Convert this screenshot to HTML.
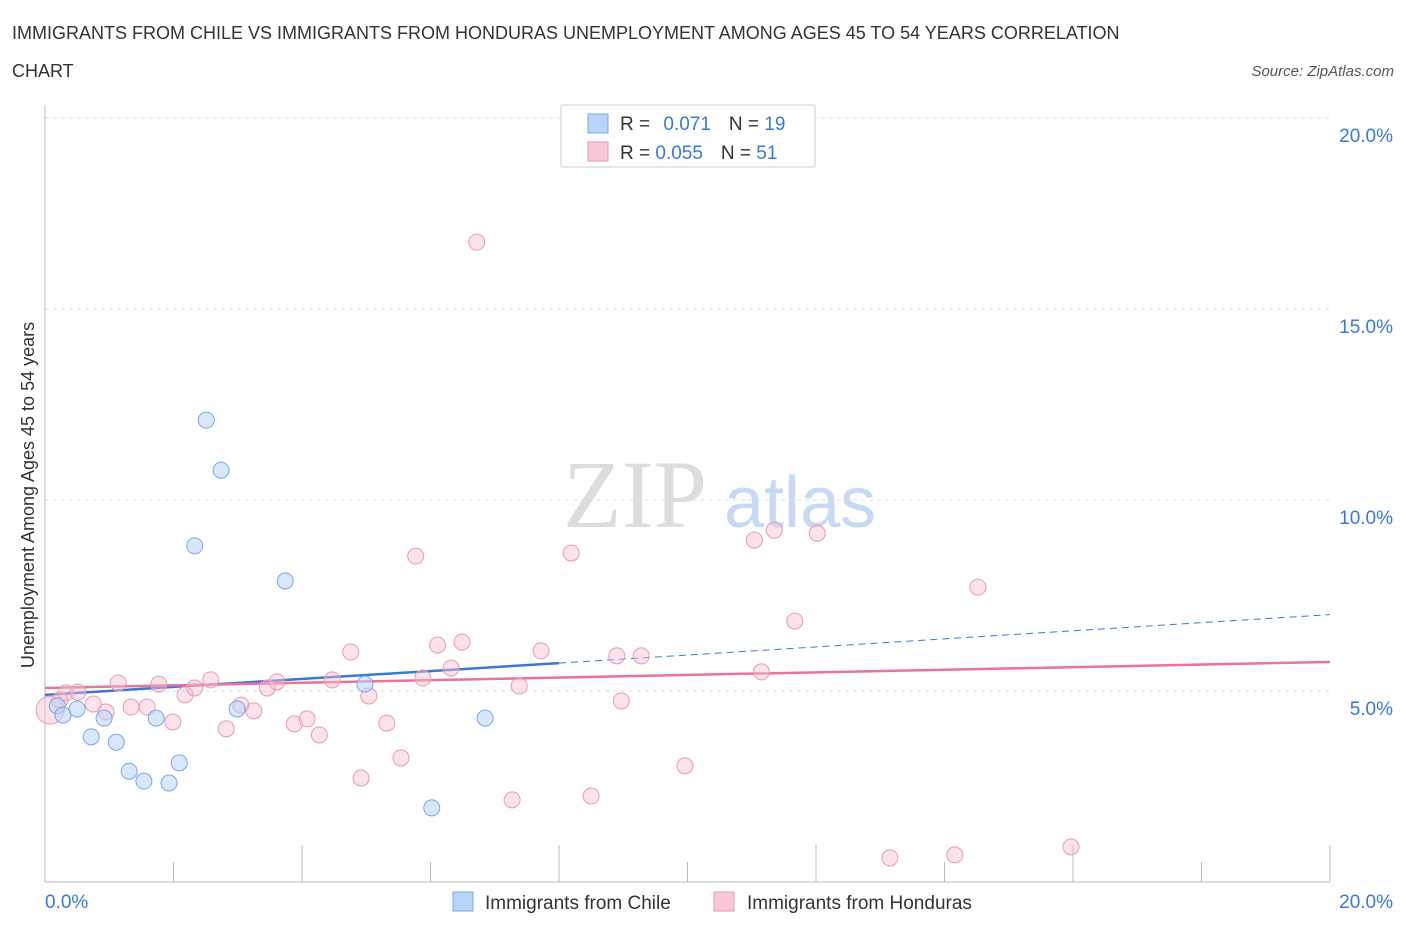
<!DOCTYPE html>
<html><head><meta charset="utf-8"><style>
body{margin:0;background:#fff;font-family:"Liberation Sans",sans-serif;}
svg{display:block}
</style></head><body>
<svg id="chart" width="1406" height="930">
<text x="12" y="39" font-size="18" fill="#333">IMMIGRANTS FROM CHILE VS IMMIGRANTS FROM HONDURAS UNEMPLOYMENT AMONG AGES 45 TO 54 YEARS CORRELATION</text>
<text x="12" y="77" font-size="18" fill="#333">CHART</text>
<text x="1394" y="76" font-size="15" fill="#555" font-style="italic" text-anchor="end">Source: ZipAtlas.com</text>
<text x="635" y="527" font-size="96" fill="#ddd" font-family="Liberation Serif,serif" text-anchor="middle">ZIP</text>
<text x="800" y="527" font-size="72" fill="#c8daf3" text-anchor="middle">atlas</text>
<text transform="translate(34,495) rotate(-90)" font-size="18" fill="#333" text-anchor="middle">Unemployment Among Ages 45 to 54 years</text>
<g id="grid"></g><g id="trend"></g><g id="pts"></g>
<g>
<rect x="561" y="105" width="254" height="62" fill="#fff" stroke="#ccc"/>
<rect x="588" y="114" width="20" height="19" fill="#b8d4f7" stroke="#7aa8e6"/>
<text x="620" y="130" font-size="19" fill="#333">R = <tspan fill="#3a78d4" dx="8">0.071</tspan><tspan dx="18" fill="#333">N = </tspan><tspan fill="#3a78d4">19</tspan></text>
<rect x="588" y="142" width="20" height="19" fill="#f8c8d6" stroke="#e89ab2"/>
<text x="620" y="159" font-size="19" fill="#333">R = <tspan fill="#3a78d4">0.055</tspan><tspan dx="18" fill="#333">N = </tspan><tspan fill="#3a78d4">51</tspan></text>
</g>
<g>
<rect x="453" y="892" width="20" height="19" fill="#b8d4f7" stroke="#7aa8e6"/>
<text x="485" y="909" font-size="19" fill="#333">Immigrants from Chile</text>
<rect x="714" y="892" width="20" height="19" fill="#f8c8d6" stroke="#e89ab2"/>
<text x="747" y="909" font-size="19" fill="#333">Immigrants from Honduras</text>
</g>
</svg>
<script>
const chileX=[0.19,0.28,0.5,0.72,0.92,1.11,1.31,1.54,1.73,1.93,2.09,2.33,2.51,2.74,2.99,3.74,4.98,6.02,6.85];
const chileY=[4.61,4.37,4.53,3.80,4.29,3.66,2.90,2.64,4.29,2.59,3.12,8.80,12.09,10.78,4.53,7.88,5.18,1.94,4.29];
const honX=[0.08,0.23,0.33,0.51,0.75,0.95,1.14,1.34,1.59,1.77,1.99,2.18,2.33,2.58,2.82,3.05,3.25,3.46,3.61,3.88,4.08,4.27,4.47,4.76,4.92,5.04,5.32,5.54,5.77,5.88,6.11,6.32,6.49,6.72,7.27,7.38,7.72,8.19,8.5,8.9,8.97,9.28,9.96,11.04,11.15,11.35,11.67,12.02,13.15,14.16,14.52,15.97];
const honY=[4.50,4.76,4.95,4.97,4.66,4.45,5.21,4.58,4.58,5.18,4.19,4.90,5.08,5.29,4.01,4.63,4.48,5.08,5.24,4.14,4.27,3.85,5.29,6.02,2.72,4.87,4.16,3.25,8.53,5.34,6.20,5.60,6.28,16.75,2.15,5.13,6.05,8.61,2.25,5.92,4.74,5.92,3.04,8.95,5.50,9.21,6.83,9.13,0.63,0.71,7.72,0.92];
const chileTrend=[4.90,5.73,7.00]; // at x=0, 8, 20
const honTrend=[5.08,5.76]; // at x=0, 20
const yTicks=[5,10,15,20];
const NS="http://www.w3.org/2000/svg";
const X=v=>45+v*64.25, Y=v=>882-v*38.2;
function mk(t,a,p){const e=document.createElementNS(NS,t);for(const k in a)e.setAttribute(k,a[k]);p.appendChild(e);return e;}
const g=document.getElementById('grid');
yTicks.forEach(t=>{
 const l=mk('line',{x1:45,x2:1330,y1:Y(t),y2:Y(t),stroke:'#ddd','stroke-dasharray':'4,4'},g);
 
 
 const tx=mk('text',{x:1393,y:Y(t)+24,'font-size':19,fill:'#3a78d4','text-anchor':'end'},g);tx.textContent=t.toFixed(1)+'%';
 
 
});
mk('line',{x1:45,x2:45,y1:105,y2:882,stroke:'#bbb'},g);
mk('line',{x1:45,x2:1330,y1:882,y2:882,stroke:'#bbb'},g);
for(let i=0;i<=10;i++){mk('line',{x1:X(i*2),x2:X(i*2),y1:i%2?862:845,y2:882,stroke:'#bbb'},g);}
const xl=mk('text',{x:45,y:908,'font-size':19,fill:'#3a78d4'},g);xl.textContent='0.0%';

const xr=mk('text',{x:1393,y:908,'font-size':19,fill:'#3a78d4','text-anchor':'end'},g);xr.textContent='20.0%';

const tr=document.getElementById('trend');
let a=mk('line',{x1:X(0),y1:Y(chileTrend[0]),x2:X(8),y2:Y(chileTrend[1]),stroke:'#3a78d4','stroke-width':2.5},tr);

a=mk('line',{x1:X(8),y1:Y(chileTrend[1]),x2:X(20),y2:Y(chileTrend[2]),stroke:'#3a78d4','stroke-width':1,'stroke-dasharray':'7,5'},tr);

a=mk('line',{x1:X(0),y1:Y(honTrend[0]),x2:X(20),y2:Y(honTrend[1]),stroke:'#e8739b','stroke-width':2.5},tr);

const p=document.getElementById('pts');
honX.forEach((v,i)=>{const c=mk('circle',{cx:X(v),cy:Y(honY[i]),r:i==0?14:8,fill:'rgba(248,190,208,0.45)',stroke:'#e89ab2','stroke-width':1},p);
 
 });
chileX.forEach((v,i)=>{const c=mk('circle',{cx:X(v),cy:Y(chileY[i]),r:8,fill:'rgba(184,212,247,0.55)',stroke:'#7aa8e6','stroke-width':1},p);
 
 });
</script>
</body></html>
